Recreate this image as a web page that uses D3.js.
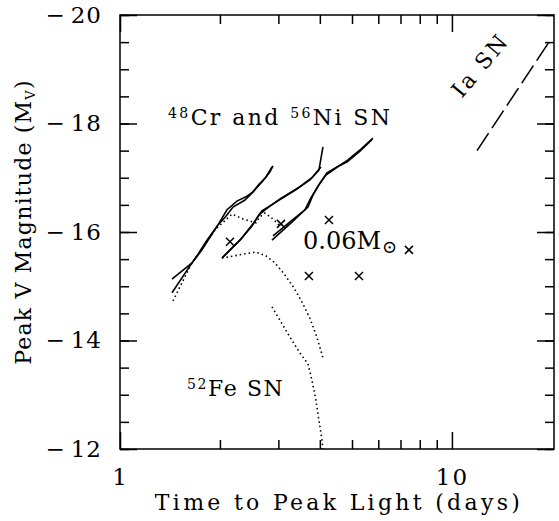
<!DOCTYPE html>
<html>
<head>
<meta charset="utf-8">
<script src="https://cdn.jsdelivr.net/npm/d3@7"></script>
<style>
body { margin: 0; background: #fff; }
text { font-family: "DejaVu Serif", serif; fill: #000; }
</style>
</head>
<body>
<div id="chart"></div>
<script>
// --- data (days, peak V magnitude) ---
var crNiA_days = [1.434, 1.648, 1.766, 1.893, 1.973, 2.101, 2.251, 2.413, 2.516, 2.677, 2.830, 2.890];
var crNiA_mag  = [-15.13, -15.43, -15.67, -15.96, -16.13, -16.41, -16.57, -16.66, -16.74, -16.92, -17.11, -17.22];
var crNiB_days = [1.434, 1.648, 1.718, 1.828, 1.973, 2.086, 2.190, 2.380, 2.516, 2.622, 2.753, 2.870];
var crNiB_mag  = [-14.88, -15.43, -15.59, -15.85, -16.13, -16.29, -16.46, -16.59, -16.74, -16.88, -17.01, -17.20];
var crNiC_days = [2.029, 2.299, 2.498, 2.604, 2.677, 2.951, 3.366, 3.734, 3.975, 4.087];
var crNiC_mag  = [-15.52, -15.85, -16.11, -16.29, -16.39, -16.55, -16.77, -16.96, -17.14, -17.57];
var crNiD_days = [2.029, 2.315, 2.516, 2.640, 2.753, 3.033, 3.437, 3.786, 4.031];
var crNiD_mag  = [-15.52, -15.87, -16.15, -16.33, -16.42, -16.61, -16.81, -17.00, -17.20];
var crNiE_days = [2.870, 3.252, 3.683, 3.813, 4.003, 4.202, 4.505, 4.828, 5.284, 5.742];
var crNiE_mag  = [-15.85, -16.15, -16.46, -16.68, -16.90, -17.09, -17.20, -17.29, -17.49, -17.70];
var crNiF_days = [2.890, 3.274, 3.607, 3.760, 3.975, 4.173, 4.472, 4.862, 5.320, 5.781];
var crNiF_mag  = [-15.93, -16.20, -16.41, -16.63, -16.87, -17.05, -17.18, -17.33, -17.53, -17.73];

var feA_days = [1.444, 1.516, 1.648, 1.791, 1.932, 2.175, 2.347, 2.568, 2.640, 2.733, 2.890, 3.033];
var feA_mag  = [-14.73, -14.99, -15.43, -15.74, -16.04, -16.33, -16.24, -16.17, -16.28, -16.35, -16.24, -16.11];
var feB_days = [2.029, 2.299, 2.568, 2.753, 2.930, 3.119, 3.343, 3.533, 3.734, 3.920, 4.087];
var feB_mag  = [-15.52, -15.58, -15.63, -15.56, -15.43, -15.23, -14.97, -14.71, -14.41, -14.06, -13.68];
var feC_days = [2.870, 3.252, 3.484, 3.683, 3.786, 3.893, 3.975, 4.059, 4.087];
var feC_mag  = [-14.62, -14.06, -13.77, -13.57, -13.27, -12.90, -12.53, -12.17, -12.00];

var ia_days = [11.9, 19.6];
var ia_mag  = [-17.5, -19.5];

var ni06_days = [2.145, 3.054, 4.261, 7.421, 3.708, 5.247];
var ni06_mag  = [-15.82, -16.15, -16.22, -15.67, -15.19, -15.19];

var yMajor = [-20, -18, -16, -14, -12];
var yMinor = d3.range(-20, -11.9, 0.5);
var xMajor = [1, 10];
var xMinor = [2, 3, 4, 5, 6, 7, 8, 9];

function zip(a, b) { return a.map(function(v, i) { return [v, b[i]]; }); }

var series = [
    { pts: zip(crNiA_days, crNiA_mag), dash: null },
    { pts: zip(crNiB_days, crNiB_mag), dash: null },
    { pts: zip(crNiC_days, crNiC_mag), dash: null },
    { pts: zip(crNiD_days, crNiD_mag), dash: null },
    { pts: zip(crNiE_days, crNiE_mag), dash: null },
    { pts: zip(crNiF_days, crNiF_mag), dash: null },
    { pts: zip(feA_days, feA_mag), dash: "1.5,3" },
    { pts: zip(feB_days, feB_mag), dash: "1.5,3" },
    { pts: zip(feC_days, feC_mag), dash: "1.5,3" },
    { pts: zip(ia_days, ia_mag), dash: "21,6" }
];

var W = 559, H = 521;
var plot = { left: 120, right: 554, top: 15, bottom: 449 };

var x = d3.scaleLog().domain([1, 20.3]).range([plot.left, plot.right]);
var y = d3.scaleLinear().domain([-12, -20]).range([plot.bottom, plot.top]);

var svg = d3.select("#chart").append("svg")
    .attr("width", W)
    .attr("height", H);

// ticks on all four sides, pointing inward
function tickSet(axisFn, scale, vals, len, pos) {
    var g = svg.append("g")
        .attr("transform", pos)
        .call(axisFn(scale).tickValues(vals).tickSize(-len).tickSizeOuter(0).tickFormat(""));
    g.select(".domain").remove();
    g.selectAll("line").attr("stroke", "#000").attr("stroke-width", 1.5);
    return g;
}
tickSet(d3.axisLeft, y, yMinor, 9, "translate(" + plot.left + ",0)");
tickSet(d3.axisLeft, y, yMajor, 17, "translate(" + plot.left + ",0)");
tickSet(d3.axisRight, y, yMinor, 9, "translate(" + plot.right + ",0)");
tickSet(d3.axisRight, y, yMajor, 17, "translate(" + plot.right + ",0)");
tickSet(d3.axisBottom, x, xMinor, 9, "translate(0," + plot.bottom + ")");
tickSet(d3.axisBottom, x, xMajor, 17, "translate(0," + plot.bottom + ")");
tickSet(d3.axisTop, x, xMinor, 9, "translate(0," + plot.top + ")");
tickSet(d3.axisTop, x, xMajor, 17, "translate(0," + plot.top + ")");

// tick labels (wide minus like the original typesetting)
var yl = svg.append("g")
    .attr("transform", "translate(" + plot.left + ",0)")
    .call(d3.axisLeft(y).tickValues(yMajor).tickSize(0).tickPadding(18));
yl.select(".domain").remove();
yl.selectAll("text")
    .style("font-size", "23px")
    .style("font-family", "'DejaVu Serif', serif")
    .text(null)
    .each(function(d) {
        var t = d3.select(this);
        t.append("tspan").text("\u2212").style("letter-spacing", "6px");
        t.append("tspan").text(Math.abs(d)).style("letter-spacing", "1px");
    });

var xl = svg.append("g")
    .attr("transform", "translate(0," + plot.bottom + ")")
    .call(d3.axisBottom(x).tickValues(xMajor).tickSize(0).tickPadding(20).tickFormat(d3.format("d")));
xl.select(".domain").remove();
xl.selectAll("text").style("font-size", "23px").style("letter-spacing", "2px")
    .style("font-family", "'DejaVu Serif', serif");

// frame
svg.append("rect")
    .attr("x", plot.left).attr("y", plot.top)
    .attr("width", plot.right - plot.left).attr("height", plot.bottom - plot.top)
    .attr("fill", "none").attr("stroke", "#000").attr("stroke-width", 1.5);

// curves
var line = d3.line()
    .x(function(d) { return x(d[0]); })
    .y(function(d) { return y(d[1]); });

svg.append("g").selectAll("path").data(series).enter()
    .append("path")
    .attr("d", function(d) { return line(d.pts); })
    .attr("fill", "none")
    .attr("stroke", "#000")
    .attr("stroke-width", 1.6)
    .attr("stroke-dasharray", function(d) { return d.dash; });

// 0.06 Msun crosses
svg.append("g").selectAll("path").data(zip(ni06_days, ni06_mag)).enter()
    .append("path")
    .attr("d", function(d) {
        var cx = x(d[0]), cy = y(d[1]), r = 4;
        return "M" + (cx - r) + "," + (cy - r) + "L" + (cx + r) + "," + (cy + r) +
               "M" + (cx - r) + "," + (cy + r) + "L" + (cx + r) + "," + (cy - r);
    })
    .attr("stroke", "#000")
    .attr("stroke-width", 1.5);

// annotations
var t1 = svg.append("text").attr("x", 168).attr("y", 125)
    .style("font-size", "22px").style("letter-spacing", "2.4px");
t1.append("tspan").text("48").style("font-size", "14px").attr("dy", -7);
t1.append("tspan").text("Cr and ").attr("dy", 7);
t1.append("tspan").text("56").style("font-size", "14px").attr("dy", -7);
t1.append("tspan").text("Ni SN").attr("dy", 7);

var t2 = svg.append("text").attr("x", 303).attr("y", 249)
    .style("font-size", "24px").style("letter-spacing", "0px");
t2.append("tspan").text("0.06M");
t2.append("tspan").text("\u2299").style("font-size", "18px").attr("dx", 1).attr("dy", 4);

var t3 = svg.append("text").attr("x", 187).attr("y", 396)
    .style("font-size", "22px").style("letter-spacing", "1.6px");
t3.append("tspan").text("52").style("font-size", "14px").attr("dy", -7);
t3.append("tspan").text("Fe SN").attr("dy", 7);

svg.append("text")
    .attr("transform", "translate(486,70) rotate(-50)")
    .attr("text-anchor", "middle")
    .style("font-size", "22px")
    .style("letter-spacing", "2.5px")
    .text("Ia SN");

// axis titles
svg.append("text")
    .attr("x", 339).attr("y", 510)
    .attr("text-anchor", "middle")
    .style("font-size", "22px")
    .style("letter-spacing", "3.3px")
    .text("Time to Peak Light (days)");

var yt = svg.append("text")
    .attr("transform", "translate(31,222) rotate(-90)")
    .attr("text-anchor", "middle")
    .style("font-size", "22px")
    .style("letter-spacing", "1.2px");
yt.append("tspan").text("Peak V Magnitude (M");
yt.append("tspan").text("V").style("font-size", "13px").attr("dy", 4);
yt.append("tspan").text(")").attr("dy", -4);
</script>
</body>
</html>
